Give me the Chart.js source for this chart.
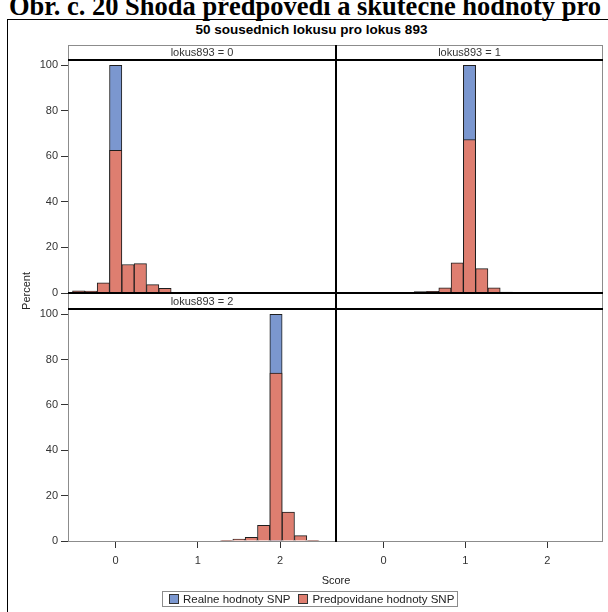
<!DOCTYPE html>
<html>
<head>
<meta charset="utf-8">
<script src="https://cdn.jsdelivr.net/npm/chart.js"></script>
<style>
  html, body { margin: 0; padding: 0; background: #fff; }
  #page { position: relative; width: 608px; height: 612px; overflow: hidden; font-family: "Liberation Sans", Arial, sans-serif; color: #222; }
  #page canvas { position: absolute; left: 0; top: 0; }
  .abs { position: absolute; white-space: nowrap; }
  #heading { left: 9px; top: -9px; font: bold 26.5px "Liberation Serif", "Times New Roman", serif; color: #000; line-height: 30px; }
  #frame { left: 7px; top: 19px; width: 700px; height: 700px; border: 1px solid #000; box-sizing: border-box; }
  #title { left: 11px; width: 601px; top: 22px; text-align: center; font-weight: bold; font-size: 13.5px; color: #000; }
  .strip { font-size: 11px; color: #333; text-align: center; line-height: 15px; height: 15px; }
  .line { position: absolute; }
  .grey { background: #8c8c8c; }
  .black { background: #000; }
  #ylab { left: 26px; top: 291px; font-size: 11px; color: #222; transform: translate(-50%, -50%) rotate(-90deg); }
  #xlab { left: 336px; top: 580px; font-size: 11px; color: #222; transform: translate(-50%, -50%); }
  #legend { left: 162px; top: 591px; height: 14px; border: 1px solid #8c8c8c; font-size: 11.5px; line-height: 14px; padding: 0 3px 0 6px; display: flex; align-items: center; gap: 8px; }
  .sw { display: inline-block; width: 8px; height: 8px; border: 1px solid #333; margin-right: 4px; vertical-align: -1px; }
</style>
</head>
<body>
<div id="page">
  <div id="heading" class="abs">Obr. č. 20 Shoda předpovědí a skutečné hodnoty pro</div>
  <div id="frame" class="abs"></div>
  <div id="title" class="abs">50 sousednich lokusu pro lokus 893</div>

  <canvas id="c0" width="608" height="612"></canvas>
  <canvas id="c1" width="608" height="612"></canvas>
  <canvas id="c2" width="608" height="612"></canvas>
  <canvas id="c3" width="608" height="612"></canvas>

  <div class="abs strip" style="left:68px;width:268px;top:45px;">lokus893 = 0</div>
  <div class="abs strip" style="left:336px;width:267px;top:45px;">lokus893 = 1</div>
  <div class="abs strip" style="left:68px;width:268px;top:294px;">lokus893 = 2</div>

  <!-- panel frame lines -->
  <div class="line grey" style="left:68px;top:45px;width:535px;height:1px;"></div>
  <div class="line grey" style="left:68px;top:45px;width:1px;height:497px;"></div>
  <div class="line grey" style="left:602px;top:45px;width:1px;height:497px;"></div>
  <div class="line grey" style="left:68px;top:541px;width:535px;height:1px;"></div>
  <div class="line black" style="left:68px;top:59px;width:535px;height:2px;"></div>
  <div class="line black" style="left:68px;top:292px;width:535px;height:2px;"></div>
  <div class="line black" style="left:68px;top:308px;width:535px;height:2px;"></div>
  <div class="line black" style="left:335px;top:45px;width:2px;height:497px;"></div>

  <div id="ylab" class="abs">Percent</div>
  <div id="xlab" class="abs">Score</div>
  <div id="legend" class="abs">
    <span><span class="sw" style="background:rgb(123,151,207)"></span>Realne hodnoty SNP</span>
    <span><span class="sw" style="background:rgb(222,126,112)"></span>Predpovidane hodnoty SNP</span>
  </div>
</div>

<script>
/* global Chart */
// tick labels
const xTicks = [0, 1, 2];
const yTicks = [0, 20, 40, 60, 80, 100];

// lokus893 = 0
const bins0 = [-0.45, -0.3, -0.15, 0, 0.15, 0.3, 0.45, 0.6];
const real0 = [null, null, null, 100, null, null, null, null];
const pred0 = [0.9, 0.8, 4.5, 62.6, 12.5, 12.9, 3.7, 2.1];

// lokus893 = 1
const bins1 = [0.45, 0.6, 0.75, 0.9, 1.05, 1.2, 1.35, 1.5, 1.65];
const real1 = [null, null, null, null, 100, null, null, null, null];
const pred1 = [0.6, 0.7, 2.3, 13.3, 67.4, 10.7, 2.3, 0.4, 0.3];

// lokus893 = 2
const bins2 = [1.35, 1.5, 1.65, 1.8, 1.95, 2.1, 2.25, 2.4];
const real2 = [null, null, null, null, 100, null, null, null];
const pred2 = [0.3, 0.9, 1.6, 6.9, 74, 12.8, 2.4, 0.3];

const BLUE = "rgb(123,151,207)";
const RED = "rgb(222,126,112)";
const W = 608, H = 612;
const X_MIN = -0.58, X_MAX = 2.68;
const Y_MAX = 102.3;
const Y_AXIS_W = 68;
const X_AXIS_H = 30;
const FONT = { family: "'Liberation Sans', Arial, sans-serif", size: 11 };

const $ = (id) => document.getElementById(id);

function pts(bins, vals) {
  return bins.map((x, i) => ({ x, y: vals[i] }));
}

function panel(id, area, showY, showX, bins, real, pred) {
  const datasets = [];
  if (bins) {
    datasets.push({ label: "Predpovidane hodnoty SNP", data: pts(bins, pred), backgroundColor: RED, order: 1 });
    datasets.push({ label: "Realne hodnoty SNP", data: pts(bins, real), backgroundColor: BLUE, order: 2 });
  }
  return new Chart($(id), {
    type: "bar",
    data: { datasets },
    options: {
      responsive: false,
      animation: false,
      devicePixelRatio: 1,
      layout: {
        padding: {
          left: showY ? area.left - Y_AXIS_W : area.left,
          right: W - area.right,
          top: area.top,
          bottom: showX ? H - area.bottom - X_AXIS_H : H - area.bottom,
        },
      },
      plugins: { legend: { display: false }, tooltip: { enabled: false } },
      datasets: {
        bar: {
          grouped: false,
          barPercentage: 1,
          categoryPercentage: 1,
          borderWidth: 1,
          borderColor: "#1e1e1e",
          borderSkipped: "start",
        },
      },
      scales: {
        x: {
          type: "linear",
          min: X_MIN,
          max: X_MAX,
          offset: false,
          display: showX,
          afterBuildTicks: (s) => { s.ticks = xTicks.map((v) => ({ value: v })); },
          afterFit: (s) => { if (showX) s.height = X_AXIS_H; },
          grid: { offset: false, drawOnChartArea: false, drawTicks: true, tickLength: 7, color: "#333" },
          border: { display: false },
          ticks: { color: "#333", font: FONT, padding: 6, maxRotation: 0 },
        },
        y: {
          min: 0,
          max: Y_MAX,
          display: showY,
          afterBuildTicks: (s) => { s.ticks = yTicks.map((v) => ({ value: v })); },
          afterFit: (s) => { if (showY) s.width = Y_AXIS_W; },
          grid: { drawOnChartArea: false, drawTicks: true, tickLength: 7, color: "#333" },
          border: { display: false },
          ticks: { color: "#333", font: FONT, padding: 3 },
        },
      },
    },
  });
}

panel("c0", { left: 68, right: 336, top: 60, bottom: 293 }, true, false, bins0, real0, pred0);
panel("c1", { left: 336, right: 603, top: 60, bottom: 293 }, false, false, bins1, real1, pred1);
panel("c2", { left: 68, right: 336, top: 309, bottom: 541 }, true, true, bins2, real2, pred2);
panel("c3", { left: 336, right: 603, top: 309, bottom: 541 }, false, true, null, null, null);
</script>
</body>
</html>
